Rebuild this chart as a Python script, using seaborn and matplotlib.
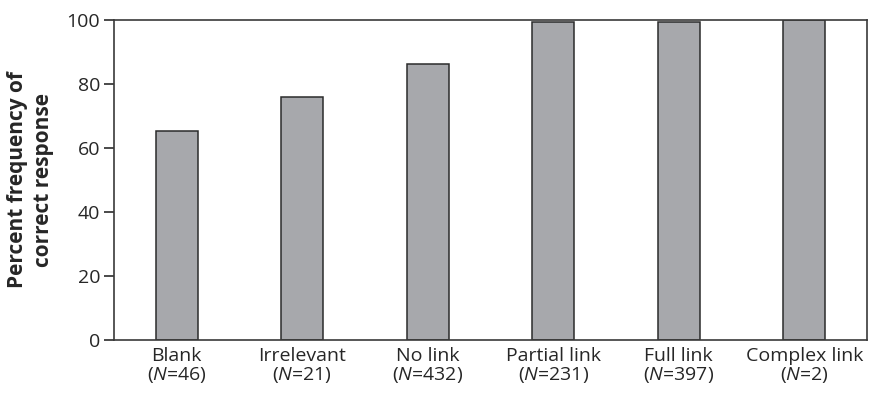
import matplotlib
matplotlib.use("Agg")
import matplotlib.pyplot as plt
import seaborn as sns
import pandas as pd

# data
categories = ["Blank", "Irrelevant", "No link", "Partial link", "Full link", "Complex link"]
n_values = [46, 21, 432, 231, 397, 2]
percent_correct = [65.4, 76.0, 86.2, 99.4, 99.5, 100.0]

sns.set_style("white")
plt.rcParams["font.family"] = ["Open Sans", "DejaVu Sans"]
plt.rcParams["mathtext.fontset"] = "custom"
plt.rcParams["mathtext.rm"] = "Open Sans"
plt.rcParams["mathtext.it"] = "Open Sans:italic"

labels = [f"{c}\n($\\mathit{{N}}$={n})" for c, n in zip(categories, n_values)]
df = pd.DataFrame({"label": labels, "pct": percent_correct})

fig = plt.figure(figsize=(8.69, 3.93), dpi=100)
ax = fig.add_axes([114 / 869, 53 / 393, 753 / 869, 320 / 393])

sns.barplot(data=df, x="label", y="pct", color="#a7a8ac", saturation=1,
            width=0.335, edgecolor="#2b2b2b", linewidth=1.1, ax=ax)

ax.set_ylim(0, 100)
ax.set_xlim(-0.5, 5.5)
ax.set_yticks([0, 20, 40, 60, 80, 100])
ax.set_xlabel("")
ax.set_ylabel("Percent frequency of\ncorrect response", fontsize=15, fontweight="bold",
              labelpad=9, linespacing=1.3)
ax.tick_params(axis="y", length=7, width=1.2, color="#2b2b2b", labelsize=14,
               pad=3, left=True)
ax.tick_params(axis="x", length=0, labelsize=14, pad=5)
for t in ax.get_xticklabels():
    t.set_linespacing(1.0)
for s in ax.spines.values():
    s.set_color("#3a3a3a")
    s.set_linewidth(1.2)

fig.savefig("out.png", dpi=100)
